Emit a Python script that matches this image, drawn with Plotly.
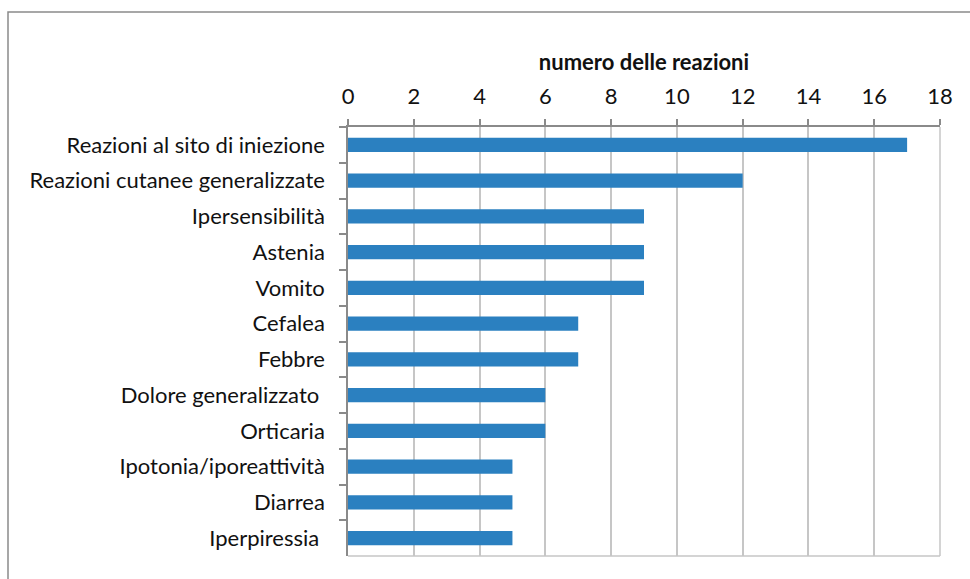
import plotly.graph_objects as go

# Adverse reaction types and how many reports each had
categories = [
    "Reazioni al sito di iniezione",
    "Reazioni cutanee generalizzate",
    "Ipersensibilità",
    "Astenia",
    "Vomito",
    "Cefalea",
    "Febbre",
    "Dolore generalizzato\u00a0",
    "Orticaria",
    "Ipotonia/iporeattività",
    "Diarrea",
    "Iperpiressia\u00a0",
]
counts = [17, 12, 9, 9, 9, 7, 7, 6, 6, 5, 5, 5]
x_ticks = list(range(0, 19, 2))

FONT = "Lato, 'Open Sans', sans-serif"
BAR_BLUE = "#2b80c0"
AXIS_GREY = "#8a8a8a"
GRID_GREY = "#c6c6c6"

fig = go.Figure(
    go.Bar(
        x=counts,
        y=categories,
        orientation="h",
        marker=dict(color=BAR_BLUE, line=dict(width=0)),
        width=0.4,
        hoverinfo="x+y",
    )
)

W, H = 970, 579
L, R, T, B = 348, 30, 127, 23
plot_w = W - L - R
plot_h = H - T - B

fig.update_layout(
    width=W,
    height=H,
    margin=dict(l=L, r=R, t=T, b=B),
    paper_bgcolor="white",
    plot_bgcolor="white",
    showlegend=False,
    font=dict(family=FONT, size=22, color="#111111"),
    xaxis=dict(
        side="top",
        range=[0, 18],
        tickvals=x_ticks,
        ticktext=[str(v) for v in x_ticks],
        ticks="outside",
        ticklen=6,
        tickcolor=AXIS_GREY,
        tickwidth=1.5,
        showline=True,
        linecolor=AXIS_GREY,
        linewidth=1.5,
        showgrid=True,
        gridcolor=GRID_GREY,
        gridwidth=1.5,
        zeroline=False,
        ticklabelstandoff=6,
        tickfont=dict(size=22),
        title=dict(
            text="<b>numero delle reazioni</b>",
            font=dict(size=22),
            standoff=6,
        ),
    ),
    yaxis=dict(
        autorange="reversed",
        ticks="outside",
        tickson="boundaries",
        ticklen=7,
        tickcolor=AXIS_GREY,
        tickwidth=1.5,
        showline=True,
        linecolor=AXIS_GREY,
        linewidth=1.5,
        showgrid=False,
        ticklabelstandoff=17,
        tickfont=dict(size=22),
    ),
    shapes=[
        # plot area edges on the bottom and right
        dict(type="line", xref="paper", yref="paper", x0=0, x1=1, y0=0, y1=0,
             line=dict(color=GRID_GREY, width=1.5)),
        dict(type="line", xref="paper", yref="paper", x0=1, x1=1, y0=0, y1=1,
             line=dict(color=GRID_GREY, width=1.5)),
        # outer chart frame
        dict(type="rect", xref="paper", yref="paper",
             x0=(8 - L) / plot_w, x1=(W + 10 - L) / plot_w,
             y0=-(B + 10) / plot_h, y1=1 + (T - 12) / plot_h,
             line=dict(color=AXIS_GREY, width=1.5), layer="below"),
    ],
)

fig.write_html("out.html")
